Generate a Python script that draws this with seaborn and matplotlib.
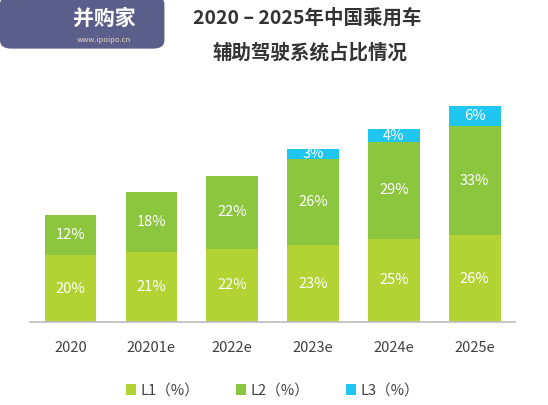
import matplotlib
matplotlib.use('Agg')
import matplotlib.pyplot as plt
import seaborn as sns
import numpy as np
import pandas as pd
from matplotlib.patches import FancyBboxPatch

years = ['2020', '20201e', '2022e', '2023e', '2024e', '2025e']
l1 = [20, 21, 22, 23, 25, 26]
l2 = [12, 18, 22, 26, 29, 33]
l3 = [0, 0, 0, 3, 4, 6]
series = ['L1（%）', 'L2（%）', 'L3（%）']
colors = ['#b3d234', '#8cc63f', '#1fc6ef']

sns.set_theme(style='white')
plt.rcParams['font.family'] = ['Noto Sans CJK SC', 'DejaVu Sans']

df = pd.DataFrame({'year': years, 'L1': l1, 'L2': l2, 'L3': l3})

fig = plt.figure(figsize=(5.48, 4.05), dpi=100)
ax = fig.add_axes([0.055, 0.205, 0.885, 0.6])

bottom = np.zeros(len(years))
for col, name, c in zip(['L1', 'L2', 'L3'], series, colors):
    vals = df[col].to_numpy()
    sns.barplot(x=df['year'], y=vals, bottom=bottom, color=c, width=0.64,
                ax=ax, label=name, saturation=1, linewidth=0)
    for i, v in enumerate(vals):
        if v > 0:
            ax.text(i, bottom[i] + v / 2, f'{v}%', ha='center', va='center',
                    color='white', fontsize=10.5)
    bottom = bottom + vals

ax.set_ylim(0, 73)
ax.set_xlim(-0.5, 5.5)
ax.set_yticks([])
ax.set_xlabel('')
ax.set_ylabel('')
for s in ['top', 'right', 'left']:
    ax.spines[s].set_visible(False)
ax.spines['bottom'].set_color('#bfbfbf')
ax.tick_params(axis='x', length=0, pad=14, labelsize=10.5, colors='#404040')

ax.legend(loc='upper center', bbox_to_anchor=(0.5, -0.2), ncol=3, frameon=False,
          fontsize=10.5, handlelength=0.7, handleheight=0.7, columnspacing=2.5,
          handletextpad=0.3, labelcolor='#404040')

fig.text(0.56, 0.955, '2020 – 2025年中国乘用车', ha='center', va='center',
         fontsize=14, fontweight='bold', color='#333333')
fig.text(0.565, 0.87, '辅助驾驶系统占比情况', ha='center', va='center',
         fontsize=14, fontweight='bold', color='#333333')

# watermark logo
logo = FancyBboxPatch((0.0, 0.88), 0.3, 0.13, boxstyle='round,pad=0,rounding_size=0.02',
                      transform=fig.transFigure, facecolor='#5a5e8a', edgecolor='none')
fig.patches.append(logo)
fig.text(0.19, 0.955, '并购家', ha='center', va='center', fontsize=15,
         fontweight='bold', color='white')
fig.text(0.19, 0.9, 'www.ipoipo.cn', ha='center', va='center', fontsize=5.5,
         color='#e8dcc0')

fig.savefig('out.png', dpi=100)
